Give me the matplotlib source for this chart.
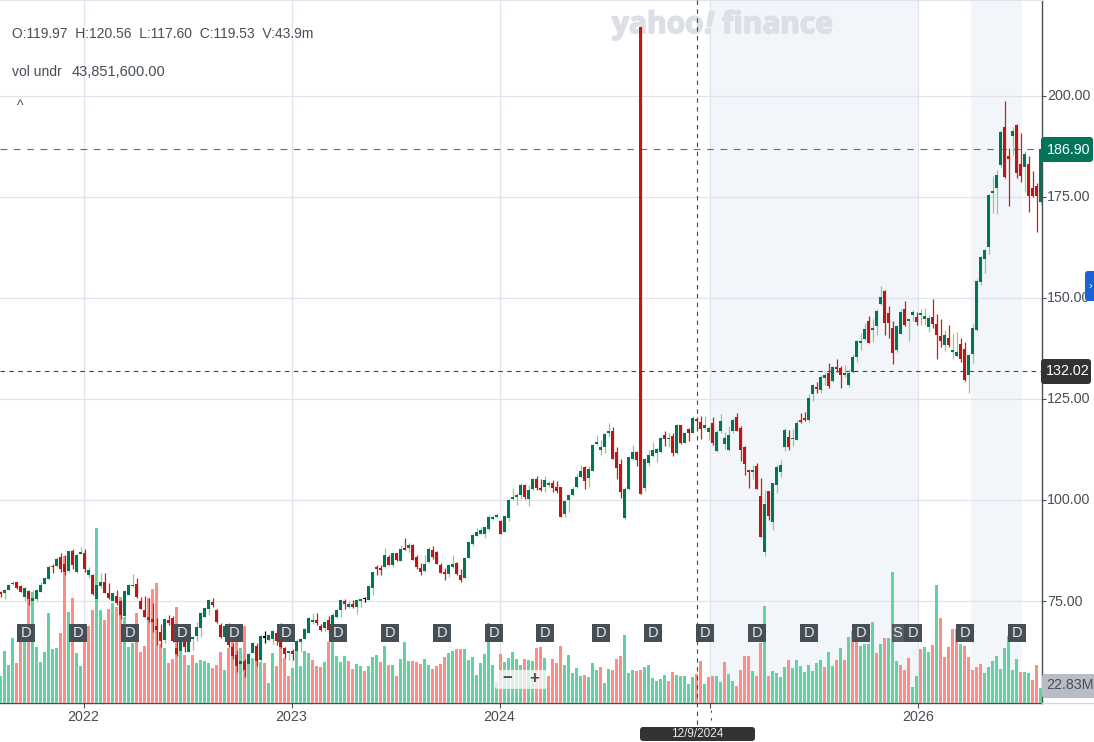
import matplotlib
matplotlib.use("Agg")
import matplotlib.pyplot as plt
import matplotlib.patheffects as pe
from matplotlib.lines import Line2D
from matplotlib.patches import FancyBboxPatch
from matplotlib.transforms import IdentityTransform, ScaledTranslation

plt.rcParams['font.family'] = ['Liberation Sans', 'DejaVu Sans']

opens = [
76.9,77.1,77.7,79.1,79.6,78.7,76.1,77.4,75.1,75.4,
77.3,79.3,80.5,83.4,83.7,85.8,84.2,82.5,87.4,82.3,
86.6,86.9,81.5,81.5,75.6,78.8,79.7,77.0,75.1,76.2,
74.9,71.4,76.6,78.6,79.2,74.9,72.8,71.1,70.5,68.9,
67.3,65.4,70.2,70.8,63.4,62.7,64.8,62.5,65.5,66.4,
68.2,71.1,73.1,74.8,72.8,69.1,66.2,66.2,63.5,61.7,
59.5,60.1,59.5,62.2,63.8,60.3,65.9,65.4,65.6,67.0,
65.4,63.4,62.1,62.7,62.7,64.9,65.6,67.2,69.8,70.3,
68.8,68.3,70.3,69.1,71.0,72.8,74.9,73.5,74.2,73.4,
75.0,75.4,75.3,78.2,83.2,83.2,83.3,85.9,83.9,86.8,
85.0,87.8,88.1,88.9,85.9,83.1,82.4,84.6,87.6,87.1,
83.8,81.9,81.7,83.3,84.3,81.4,80.8,85.7,89.1,91.2,
91.7,91.7,92.7,95.3,95.9,94.8,92.2,95.5,100.3,100.7,
101.2,103.6,100.3,102.8,105.2,103.0,103.2,103.7,104.1,103.1,
103.2,96.5,100.0,101.3,103.2,105.7,108.1,105.4,107.3,113.9,
112.4,113.0,116.7,117.2,111.8,108.8,95.6,102.7,110.1,111.8,
217.0,103.0,109.2,110.9,111.7,111.9,116.0,115.0,115.8,111.6,
118.5,114.2,117.6,116.7,119.97,119.4,117.9,116.8,119.0,112.2,
117.2,113.9,112.4,117.2,120.5,117.7,113.1,107.0,106.9,108.4,
101.1,87.2,102.2,94.6,103.8,107.0,113.2,115.6,115.0,114.9,
119.5,120.0,119.9,126.2,127.7,127.2,130.2,131.4,129.5,132.7,
132.6,131.0,128.5,131.7,135.4,138.9,139.9,144.3,142.2,143.1,
148.5,151.7,146.4,142.6,137.1,141.2,147.2,144.4,145.8,145.3,
145.9,144.8,142.8,145.3,143.6,140.6,138.4,140.1,136.6,135.6,
138.6,137.4,130.9,136.1,142.1,154.0,159.7,162.5,176.1,177.3,
182.9,192.3,185.2,190.2,192.8,183.1,182.4,183.2,177.2,177.7,
173.8]
highs = [
77.5,77.9,79.1,80.0,79.7,79.0,78.4,77.7,77.6,77.7,
79.8,80.9,83.8,84.2,86.0,87.0,86.4,87.5,87.8,86.6,
88.3,87.9,83.5,81.6,81.0,81.9,81.9,79.4,77.1,77.7,
75.3,77.6,79.2,81.7,80.7,76.1,76.3,75.7,74.5,70.7,
69.3,70.7,71.6,71.2,65.4,66.6,66.2,65.5,66.2,69.9,
72.2,73.6,75.4,75.8,73.0,69.5,69.0,69.5,64.6,62.9,
60.8,60.7,62.1,64.8,64.6,66.6,67.6,66.9,67.8,67.8,
69.5,63.6,62.4,63.1,65.5,65.8,68.3,71.0,72.0,72.1,
69.3,69.9,71.3,72.0,73.0,75.4,75.6,75.0,75.2,75.4,
75.7,75.9,78.8,82.3,83.9,83.9,88.0,86.4,87.0,87.0,
88.9,90.6,89.4,89.0,86.3,84.5,86.4,88.4,88.6,87.3,
84.5,83.1,84.2,86.4,84.7,82.8,85.9,89.7,91.5,93.0,
93.2,93.4,96.3,96.3,96.9,95.0,96.3,100.2,103.0,101.7,
104.1,104.0,103.7,105.4,105.9,105.3,105.9,104.7,105.0,104.7,
103.3,100.0,101.5,103.3,106.8,108.7,108.3,108.3,113.8,116.1,
114.9,116.7,119.0,118.0,113.2,110.1,103.1,110.7,113.6,112.2,
217.1,110.3,112.4,114.4,112.9,115.5,117.0,116.7,116.7,118.7,
118.6,116.9,117.7,120.8,120.56,120.8,120.8,118.2,120.5,117.3,
121.3,116.9,118.2,120.2,121.45,118.2,113.4,107.3,108.6,109.1,
105.4,102.5,102.3,104.3,108.6,109.9,117.7,117.3,117.5,119.8,
121.5,121.8,126.2,128.7,129.2,130.9,131.5,133.9,133.1,134.9,
133.2,133.4,132.4,136.1,139.6,141.3,143.8,145.5,144.7,147.3,
153.0,152.0,148.0,144.3,143.3,147.3,149.3,144.6,147.0,146.5,
147.4,147.6,145.8,149.8,146.0,144.8,142.1,143.3,141.1,141.6,
140.1,139.1,136.2,143.6,154.7,160.4,162.15,175.7,180.2,181.7,
191.6,198.8,187.1,192.4,193.1,190.9,186.4,185.2,181.5,178.4,
187.6]
lows = [
76.1,75.6,77.6,78.9,78.0,77.2,75.1,74.1,73.6,74.9,
77.2,79.1,80.4,82.0,83.5,82.3,81.5,82.3,83.0,82.0,
86.6,82.3,80.6,76.5,75.4,78.3,76.9,75.4,74.9,74.0,
70.6,71.1,76.4,78.4,75.8,73.0,71.0,69.9,67.4,64.1,
63.5,64.6,69.1,64.9,61.3,62.6,62.4,62.4,62.9,65.2,
66.2,71.0,71.6,73.6,69.5,65.8,66.0,63.5,60.7,57.5,
58.8,56.3,59.4,62.1,59.0,60.0,64.7,65.0,64.3,64.1,
63.3,60.8,60.4,60.3,62.5,62.4,65.5,67.0,69.3,69.1,
67.5,67.5,67.2,68.8,70.9,71.1,73.0,73.2,73.3,71.9,
73.4,74.8,75.2,76.5,81.4,81.4,83.1,83.8,83.5,84.8,
84.8,87.6,87.1,85.1,83.0,81.4,82.3,84.5,85.4,84.1,
81.9,80.2,81.0,83.1,81.5,79.8,80.6,85.6,88.6,91.0,
91.5,90.6,92.5,95.1,95.5,91.6,92.0,94.9,100.1,98.8,
100.2,100.2,98.5,102.5,102.5,102.2,102.0,103.3,102.0,101.7,
95.8,95.8,97.1,101.1,102.9,105.5,102.8,103.3,107.1,113.5,
111.1,111.7,115.5,110.1,105.2,100.4,95.4,102.5,109.9,108.4,
101.5,102.3,108.5,110.7,109.4,111.7,113.4,113.0,110.9,111.4,
113.8,114.0,114.6,116.5,117.60,115.0,117.5,114.8,113.6,112.0,
116.5,112.7,112.1,116.5,117.0,109.7,106.3,103.0,105.1,102.8,
90.9,86.2,95.05,92.6,101.8,105.6,112.2,112.4,113.4,114.8,
119.1,119.5,119.4,124.6,126.6,126.6,128.5,127.7,129.3,131.8,
127.7,130.4,128.0,131.5,134.2,137.1,139.7,138.8,139.1,140.8,
148.3,140.8,140.1,133.7,136.6,141.1,143.1,139.4,144.4,143.3,
143.3,143.3,141.7,142.6,134.9,137.9,136.9,137.9,134.9,135.4,
134.2,129.4,126.5,133.9,141.9,153.1,156.3,160.9,171.0,170.8,
182.5,179.7,172.8,185.4,179.7,178.7,176.3,171.3,175.0,166.4,
173.0]
closes = [
76.7,77.7,78.9,79.5,78.1,77.3,78.2,75.5,75.8,77.7,
78.9,80.7,83.4,83.3,85.4,82.9,82.2,87.3,83.8,86.4,
86.8,82.9,82.6,76.8,78.9,79.6,77.1,75.8,76.9,74.5,
71.6,77.4,79.0,78.9,75.9,73.1,71.1,70.3,69.7,67.7,
65.2,70.5,69.6,65.2,61.9,66.2,63.5,64.9,66.1,68.6,
72.1,73.3,75.2,73.9,69.7,66.2,68.7,64.0,61.4,59.0,
60.2,58.0,61.9,64.6,60.2,66.4,65.9,66.5,67.6,65.2,
63.5,62.0,62.3,62.0,65.1,65.6,68.1,70.8,70.0,69.5,
67.7,69.8,67.7,71.6,72.7,75.3,74.3,74.3,73.5,75.2,
75.5,75.4,78.6,82.2,83.0,82.7,86.3,83.9,86.8,85.1,
87.9,87.6,88.9,85.2,83.3,82.3,84.2,87.9,85.9,84.2,
82.0,81.8,83.8,84.2,81.7,80.1,85.6,89.5,91.3,92.0,
92.6,93.2,95.8,95.8,96.0,91.7,96.0,100.0,100.7,100.9,
103.7,100.7,102.5,105.2,103.0,102.5,104.9,103.9,103.0,102.2,
95.9,99.7,101.2,102.7,105.6,107.3,104.8,107.6,113.6,114.0,
113.1,116.3,116.8,110.2,107.8,102.1,102.6,110.6,111.8,110.0,
101.6,110.1,111.1,112.3,112.6,115.3,115.2,115.2,111.6,118.6,
114.0,116.6,116.7,120.2,119.53,117.5,118.5,117.7,114.2,116.8,
119.5,115.3,116.2,119.8,117.2,112.4,109.0,106.9,107.0,102.8,
90.9,99.0,96.1,104.1,108.1,108.7,117.3,113.2,115.3,119.0,
119.3,119.8,125.2,128.4,127.5,130.4,130.9,128.2,132.9,132.4,
130.9,131.1,131.4,135.4,139.4,139.4,142.3,138.9,142.3,146.8,
150.2,143.8,143.8,136.4,143.1,146.5,143.3,144.6,146.5,144.1,
146.0,145.5,145.0,143.6,140.8,139.4,140.8,138.4,137.1,136.6,
134.9,129.7,135.9,142.6,154.2,160.25,161.9,175.5,176.3,180.5,
191.1,179.9,184.5,191.4,181.0,180.2,185.7,175.3,175.3,175.3,
186.9]
volumes = [
41.5,79.4,58.1,99.1,61.2,99.6,95.5,162.8,168.8,84.4,
61.7,76.8,136.0,81.4,82.9,105.6,223.4,137.5,158.7,75.3,
56.6,114.8,117.3,140.5,264.9,141.5,125.4,142.0,151.1,146.1,
160.2,129.9,84.4,91.5,136.0,77.8,86.9,158.7,172.4,181.5,
89.5,82.9,60.2,66.2,146.1,90.5,73.3,58.1,73.3,60.2,
65.7,64.2,60.2,52.6,58.1,76.8,50.6,82.9,99.6,118.8,
82.9,117.3,73.3,67.7,86.9,62.7,60.2,30.8,75.3,55.6,
119.8,67.7,40.4,53.6,84.4,55.6,78.4,75.3,65.7,56.6,
55.1,62.7,93.0,119.8,71.8,62.7,71.8,64.2,51.1,59.6,
56.6,48.0,55.6,69.3,72.3,61.7,85.9,58.1,58.1,40.4,
66.2,92.0,64.2,63.2,61.7,58.6,66.2,58.1,51.1,55.6,
58.6,69.3,75.3,78.4,81.4,81.4,81.4,64.7,69.3,42.0,
60.2,73.8,120.8,57.1,33.9,73.8,61.7,67.7,76.8,66.2,
57.1,66.2,65.7,64.2,82.9,84.4,67.7,40.4,66.2,60.2,
85.9,58.1,72.3,45.0,52.6,40.4,42.0,38.9,60.2,49.5,
54.1,29.8,51.1,49.5,66.2,70.8,102.6,45.0,49.5,48.0,
49.5,54.1,57.1,37.4,32.9,35.9,42.0,32.9,46.5,42.0,
40.4,40.4,28.3,38.9,43.9,64.2,28.8,39.9,40.9,40.9,
31.8,62.7,44.0,33.4,25.8,50.0,71.3,71.3,48.5,40.9,
91.5,147.1,40.9,48.5,46.0,39.4,54.6,65.7,53.1,65.7,
56.1,47.5,57.6,48.5,61.2,65.7,55.1,77.3,56.1,65.7,
83.4,65.7,100.1,109.2,104.1,86.4,90.0,90.0,122.8,75.8,
89.5,99.1,99.1,198.7,63.7,57.6,50.6,68.2,24.3,40.9,
82.4,84.9,77.8,88.0,179.5,128.9,69.8,84.9,112.2,112.2,
90.0,86.4,69.8,50.0,54.6,59.1,45.5,54.6,63.7,71.3,
51.6,83.4,101.6,50.0,66.7,47.0,47.0,45.5,34.9,57.6,
22.83]
volume_dirs = (
"ggggrrgrgg" "gggggrrgrg" "grrrggrrgr" "rgggrrrrrr" "rgrrrgrgrg"
"gggrrrgrrr" "grggrgrggr" "rrrgggggrr" "rgrggggrrg" "grgggrgrgr"
"gggrrrggrr" "rrggrrgggg" "gggggrgggg" "grggrrgrrr" "rgggggrggg"
"rggrrrgggr" "rggggggrrg" "ggggrrgrrg" "grggrrrrgr" "rgrggggrgg"
"ggggggrggr" "grgrrggggr" "grgggrrrgg" "rggrgrrrrr" "grrrrrgggg"
"gggggrggrr" "grgrg"
)
year_weeks = [20.68, 72.68, 124.68, 177.4, 229.3]
year_labels = ["2022", "2023", "2024", "", "2026"]
price_ticks = [75, 100, 125, 150, 175, 200]
dividend_weeks = [6.3, 19.3, 32.3, 45.3, 58.3, 71.3, 84.3, 97.3, 110.3, 123.3, 136.05,
                  150.05, 163.05, 176.05, 189.05, 202.05, 215.05, 228.05, 241.05, 254.05]
split_weeks = [225.05]
band_weeks = [(177.4, 229.3), (242.55, 255.4)]
last_price = 186.90
cross_price = 132.02

W, H = 1094, 742
PLOT_R, PLOT_B = 1042, 703
fig = plt.figure(figsize=(W / 100, H / 100), dpi=100, facecolor="white")
rect = [0, (H - PLOT_B) / H, PLOT_R / W, PLOT_B / H]
xlim = (-0.2, 260.3)
ylim = (100 + (500 - PLOT_B) / 4.04, 100 + 500 / 4.04)
vol_per_px = 1.517

GRID = "#e0e3eb"
TXT = "#464e56"
ax = fig.add_axes(rect, zorder=1)
axv = fig.add_axes(rect, zorder=2, frameon=False)
axc = fig.add_axes(rect, zorder=3, frameon=False)
for a in (ax, axv, axc):
    a.set_xlim(*xlim)
axv.set_ylim(0, PLOT_B * vol_per_px)
ax.set_ylim(*ylim)
axc.set_ylim(*ylim)
axv.axis("off")
axc.axis("off")

ax.spines["left"].set_visible(False)
ax.spines["top"].set_color(GRID)
ax.spines["right"].set_color(TXT)
ax.spines["bottom"].set_color(TXT)
ax.spines["right"].set_linewidth(1.0)
ax.spines["bottom"].set_linewidth(1.0)
ax.yaxis.tick_right()
ax.set_yticks(price_ticks, [f"{v:.2f}" for v in price_ticks])
ax.set_xticks(year_weeks, year_labels)
ax.tick_params(axis="y", length=3, width=0.8, color=TXT, labelsize=10.3, labelcolor=TXT, pad=0.8)
ax.tick_params(axis="x", length=3.5, width=0.8, color=TXT, labelsize=10.3, labelcolor=TXT, pad=1.5)
up_shift = ScaledTranslation(0, 1 / 100, fig.dpi_scale_trans)
for lab in ax.get_yticklabels():
    lab.set_transform(lab.get_transform() + up_shift)
ax.grid(True, color=GRID, linewidth=0.9)
ax.set_axisbelow(True)
for a, b in band_weeks:
    ax.axvspan(a, b, color="#f2f6fa", lw=0, zorder=0)

weeks = list(range(len(closes)))
vol_cols = ["#62d2a0" if d == "g" else "#ff8d85" for d in volume_dirs]
axv.bar(weeks, volumes, width=0.75, color=vol_cols, linewidth=0)

def body_col(o, c):
    return "#000000" if o == c else ("#02745c" if c > o else "#bf1515")
def wick_col(o, c):
    return "#000000" if o == c else ("#8fce7f" if c > o else "#c9200f")

wicks = axc.vlines(weeks, lows, highs, colors=[wick_col(o, c) for o, c in zip(opens, closes)],
                   linewidth=0.9, zorder=2)
wicks.set_snap(True)
axc.bar(weeks, [max(abs(c - o), 0.45) for o, c in zip(opens, closes)],
        bottom=[min(o, c) for o, c in zip(opens, closes)], width=0.75,
        color=[body_col(o, c) for o, c in zip(opens, closes)], linewidth=0, zorder=3)

axc.axhline(last_price, color="#2f8a70", lw=0.8, dashes=(6, 6), zorder=1.5)
axc.axhline(cross_price, color="#444444", lw=0.8, dashes=(4, 4), zorder=1.5)

marker_y = 100 + (500 - 633) / 4.04
axc.scatter(split_weeks, [marker_y] * len(split_weeks), marker="s", s=168, color="#464e56", alpha=0.9, lw=0, zorder=5)
for k in split_weeks:
    axc.text(k - 0.9, marker_y, "S", color="#e8eaed", ha="center", va="center", fontsize=10.5, zorder=5.5)
axc.scatter(dividend_weeks, [marker_y] * len(dividend_weeks), marker="s", s=168, color="#464e56", lw=0, zorder=6)
for k in dividend_weeks:
    axc.text(k, marker_y, "D", color="#e8eaed", ha="center", va="center", fontsize=10.5, zorder=7)

def ftext(x, y, s, **kw):
    return fig.text(x / W, 1 - y / H, s, **kw)

def box(x0, y0, x1, y1, col, r=3, alpha=1.0, z=10):
    p = FancyBboxPatch((x0, H - y1), x1 - x0, y1 - y0, boxstyle=f"round,pad=0,rounding_size={r}",
                       transform=IdentityTransform(), fc=col, ec="none", alpha=alpha, zorder=z)
    fig.add_artist(p)

def pline(xs, ys, col, lw=0.8, dashes=None, z=9):
    l = Line2D(xs, [H - y for y in ys], transform=IdentityTransform(), color=col, lw=lw, zorder=z)
    if dashes:
        l.set_dashes(dashes)
    fig.add_artist(l)

# crosshair and axis extras
pline([696.5, 696.5], [0, 726], "#444444", dashes=(4, 4))
pline([710.5, 710.5], [710, 722], "#444444", dashes=(2, 5))
pline([PLOT_R, W], [PLOT_B, PLOT_B], "#d5d8df", lw=1.0)

# watermark (between the grid and the marks)
thick = [pe.withStroke(linewidth=1.2, foreground="#dcdfe6")]
wm_font = dict(transform=IdentityTransform(), fontsize=21.5, fontweight="bold",
               family=["Open Sans", "DejaVu Sans"], color="#dcdfe6", va="baseline",
               zorder=1.5, clip_on=False, path_effects=thick)
ax.text(612, H - 33, "yahoo!/finance".replace("!/finance", ""), ha="left", **wm_font)
ax.text(705, H - 33, "!", ha="left", style="italic", **wm_font)
ax.text(722, H - 33, "finance", ha="left", **wm_font)

# header
ftext(12, 34, "O:119.97  H:120.56  L:117.60  C:119.53  V:43.9m", fontsize=10, color=TXT, va="center", zorder=8)
ftext(12, 72, "vol undr", fontsize=10, color=TXT, va="center", zorder=8)
ftext(72, 72, "43,851,600.00", fontsize=10.5, color=TXT, va="center", zorder=8)
ftext(20, 106, "^", fontsize=10, color=TXT, ha="center", va="center", zorder=8)

# price labels
box(1041, 137, 1093, 162, "#02745c")
ftext(1068.5, 149.5, "186.90", color="white", fontsize=10.3, ha="center", va="center", zorder=11)
box(1041, 359, 1091, 384, "#333333")
ftext(1068, 371, "132.02", color="white", fontsize=10.3, ha="center", va="center", zorder=11)
box(1042, 674, W + 4, 698, "#b8bcc6")
ftext(1070, 685, "22.83M", color=TXT, fontsize=10.3, ha="center", va="center", zorder=11)
box(1085, 271, W + 4, 301, "#1a62d6")
ftext(1090, 286, "›", color="white", fontsize=8, ha="center", va="center", zorder=11)

# date label
box(640, 727, 755, 741, "#333333")
ftext(697.5, 734, "12/9/2024", color="#e8eaed", fontsize=8.5, ha="center", va="center", zorder=11)

# zoom control
box(495, 670, 547, 689, "#ffffff", alpha=0.75)
pline([520.5, 520.5], [671, 688], "#e6e8ec", lw=0.8, z=11)
ftext(507, 679, "−", color=TXT, fontsize=12, fontweight="bold", ha="center", va="center", zorder=11)
ftext(534, 679, "+", color=TXT, fontsize=12, fontweight="bold", ha="center", va="center", zorder=11)

fig.savefig("out.png", dpi=100)
